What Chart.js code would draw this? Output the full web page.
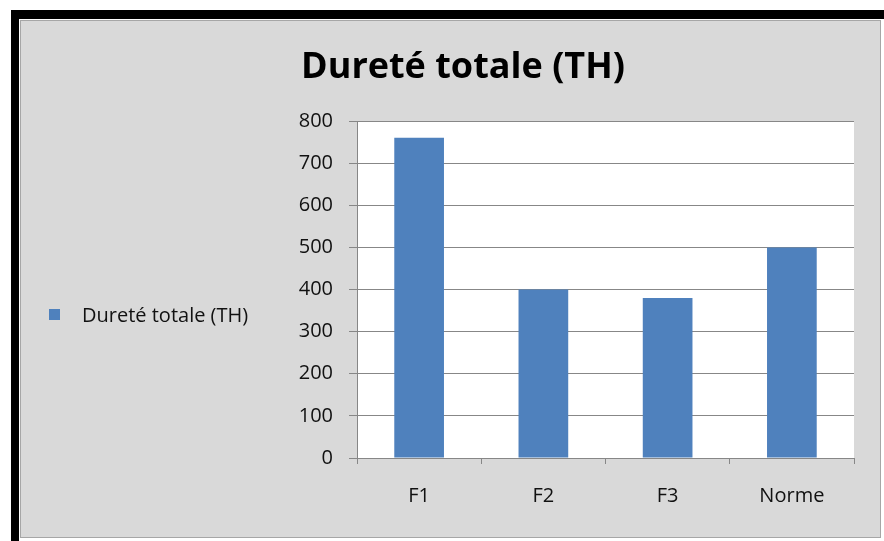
<!DOCTYPE html>
<html>
<head>
<meta charset="utf-8">
<script src="https://cdn.jsdelivr.net/npm/chart.js@4/dist/chart.umd.min.js"></script>
<style>
  body { margin: 0; background: #fff; }
  #wrap { position: absolute; left: 0; top: 0; width: 884px; height: 541px; }
</style>
</head>
<body>
<div id="wrap"><canvas id="chart" width="884" height="541"></canvas></div>
<script>
var categories = ['F1', 'F2', 'F3', 'Norme'];
var values = [760, 400, 380, 500];
var seriesLabel = 'Dureté totale (TH)';
var chartTitle = 'Dureté totale (TH)';
var yMin = 0, yMax = 800, yStep = 100;

var font = "'Open Sans', sans-serif";
var gridColor = '#878787';
var barColor = '#4f81bd';

// gray panel, black frame and white plot background
var framePlugin = {
    id: 'frame',
    beforeDraw: function(chart) {
        var c = chart.ctx;
        var a = chart.chartArea;
        c.save();
        c.fillStyle = '#fff';
        c.fillRect(0, 0, 884, 541);
        c.fillStyle = '#000';
        c.fillRect(11, 10, 873, 9);
        c.fillRect(11, 10, 8, 531);
        c.fillStyle = '#d9d9d9';
        c.fillRect(20, 20, 860, 518);
        c.strokeStyle = '#a6a6a6';
        c.lineWidth = 1;
        c.strokeRect(20.5, 20.5, 860, 517);
        c.fillStyle = '#fff';
        c.fillRect(a.left, a.top, a.right - a.left, a.bottom - a.top);
        c.restore();
    },
    afterDraw: function(chart) {
        var c = chart.ctx;
        c.save();
        // title
        c.fillStyle = '#000';
        c.font = 'bold 36px ' + font;
        c.textAlign = 'center';
        c.textBaseline = 'alphabetic';
        c.fillText(chartTitle, 463, 78);
        // legend
        c.fillStyle = barColor;
        c.fillRect(49, 309, 11, 11);
        c.fillStyle = '#111';
        c.font = '20px ' + font;
        c.textAlign = 'left';
        c.textBaseline = 'middle';
        c.fillText(chart.data.datasets[0].label, 82, 316);
        c.restore();
    }
};

var ctx = document.getElementById('chart').getContext('2d');
var myChart = new Chart(ctx, {
    type: 'bar',
    data: {
        labels: categories,
        datasets: [{
            label: seriesLabel,
            data: values,
            backgroundColor: barColor,
            borderWidth: 0,
            barPercentage: 0.4,
            categoryPercentage: 1
        }]
    },
    options: {
        responsive: false,
        animation: false,
        devicePixelRatio: 1,
        layout: { padding: { left: 0, top: 121, right: 30, bottom: 0 } },
        plugins: {
            legend: { display: false },
            title: { display: false },
            tooltip: { enabled: false }
        },
        scales: {
            x: {
                afterFit: function(scale) { scale.height = 83; },
                grid: { offset: true, drawOnChartArea: false, drawTicks: true, tickLength: 6, color: gridColor },
                border: { color: gridColor },
                ticks: { padding: 20, color: '#111', font: { family: font, size: 20 } }
            },
            y: {
                min: yMin,
                max: yMax,
                afterFit: function(scale) { scale.width = 357; },
                grid: { drawTicks: true, tickLength: 8, color: gridColor },
                border: { color: gridColor },
                ticks: { stepSize: yStep, padding: 16, color: '#111', font: { family: font, size: 20 } }
            }
        }
    },
    plugins: [framePlugin]
});
</script>
</body>
</html>
